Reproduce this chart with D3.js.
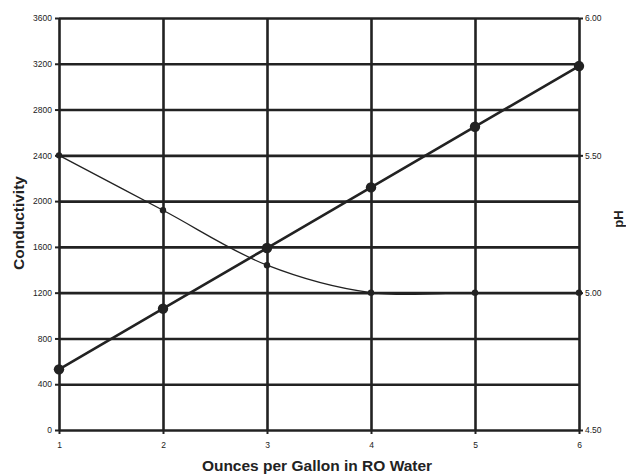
<!DOCTYPE html>
<html>
<head>
<meta charset="utf-8">
<script src="https://cdn.jsdelivr.net/npm/d3@7"></script>
<style>
    body { margin: 0; background: #fff; }
    text { font-family: "Liberation Sans", Arial, sans-serif; fill: #222; }
</style>
</head>
<body>
<div id="someChart"></div>
<script>
const ounces = [1, 2, 3, 4, 5, 6];
const conductivity = [530, 1060, 1590, 2120, 2650, 3180];
const ph = [5.50, 5.30, 5.10, 5.00, 5.00, 5.00];
const leftTicks = [0, 400, 800, 1200, 1600, 2000, 2400, 2800, 3200, 3600];
const rightTicks = [4.5, 5.0, 5.5, 6.0];

const drawChart = () => {
    const W = 626, H = 476;
    const left = 59, right = 579, top = 18, bottom = 430;
    const ink = '#222';

    const svg = d3.select('#someChart').append('svg')
        .attr('width', W)
        .attr('height', H);

    const xScale = d3.scaleLinear().domain([1, 6]).range([left, right]);
    const yLeft = d3.scaleLinear().domain([0, 3600]).range([bottom, top]);
    const yRight = d3.scaleLinear().domain([4.5, 6.0]).range([bottom, top]);

    // grid lines
    svg.append('g')
        .call(d3.axisBottom(xScale).tickValues(ounces).tickSize(-(bottom - top)).tickFormat(''))
        .attr('transform', `translate(0, ${bottom})`)
        .call(g => g.select('.domain').remove())
        .selectAll('line').attr('stroke', ink).attr('stroke-width', 2.6);

    svg.append('g')
        .call(d3.axisLeft(yLeft).tickValues(leftTicks).tickSize(-(right - left)).tickFormat(''))
        .attr('transform', `translate(${left}, 0)`)
        .call(g => g.select('.domain').remove())
        .selectAll('line').attr('stroke', ink).attr('stroke-width', 2.6);

    // axes with small tick marks and labels
    const xAxis = svg.append('g')
        .attr('transform', `translate(0, ${bottom})`)
        .call(d3.axisBottom(xScale).tickValues(ounces).tickSize(4).tickPadding(8).tickFormat(d3.format('d')));
    const yAxisL = svg.append('g')
        .attr('transform', `translate(${left}, 0)`)
        .call(d3.axisLeft(yLeft).tickValues(leftTicks).tickSize(4).tickPadding(3).tickFormat(d3.format('d')));
    const yAxisR = svg.append('g')
        .attr('transform', `translate(${right}, 0)`)
        .call(d3.axisRight(yRight).tickValues(rightTicks).tickSize(4).tickPadding(2).tickFormat(d3.format('.2f')));

    [xAxis, yAxisL, yAxisR].forEach(a => {
        a.select('.domain').remove();
        a.selectAll('line').attr('stroke', ink).attr('stroke-width', 2);
        a.selectAll('text').attr('font-size', 8.5).attr('fill', '#333')
            .style('font-family', '"Liberation Sans", Arial, sans-serif');
    });

    // conductivity line
    const condLine = d3.line()
        .x((d, i) => xScale(ounces[i]))
        .y(d => yLeft(d));
    svg.append('path')
        .datum(conductivity)
        .attr('d', condLine)
        .attr('fill', 'none')
        .attr('stroke', ink)
        .attr('stroke-width', 2.6);
    svg.selectAll('.condDot')
        .data(conductivity)
        .enter()
        .append('circle')
        .attr('cx', (d, i) => xScale(ounces[i]))
        .attr('cy', d => yLeft(d))
        .attr('r', 5.2)
        .attr('fill', ink);

    // pH line (smoothed)
    const phLine = d3.line()
        .x((d, i) => xScale(ounces[i]))
        .y(d => yRight(d))
        .curve(d3.curveCatmullRom.alpha(0.5));
    svg.append('path')
        .datum(ph)
        .attr('d', phLine)
        .attr('fill', 'none')
        .attr('stroke', ink)
        .attr('stroke-width', 1.3);
    svg.selectAll('.phDot')
        .data(ph)
        .enter()
        .append('circle')
        .attr('cx', (d, i) => xScale(ounces[i]))
        .attr('cy', d => yRight(d))
        .attr('r', 3.2)
        .attr('fill', ink);

    // axis titles
    svg.append('text')
        .attr('x', 317)
        .attr('y', 471)
        .attr('text-anchor', 'middle')
        .attr('font-size', 15.5)
        .attr('font-weight', 'bold')
        .text('Ounces per Gallon in RO Water');

    svg.append('text')
        .attr('transform', `translate(24, 223) rotate(-90)`)
        .attr('text-anchor', 'middle')
        .attr('font-size', 15.5)
        .attr('font-weight', 'bold')
        .text('Conductivity');

    svg.append('text')
        .attr('transform', `translate(623, 219) rotate(-90)`)
        .attr('text-anchor', 'middle')
        .attr('font-size', 13)
        .attr('font-weight', 'bold')
        .text('pH');
};

drawChart();
</script>
</body>
</html>
